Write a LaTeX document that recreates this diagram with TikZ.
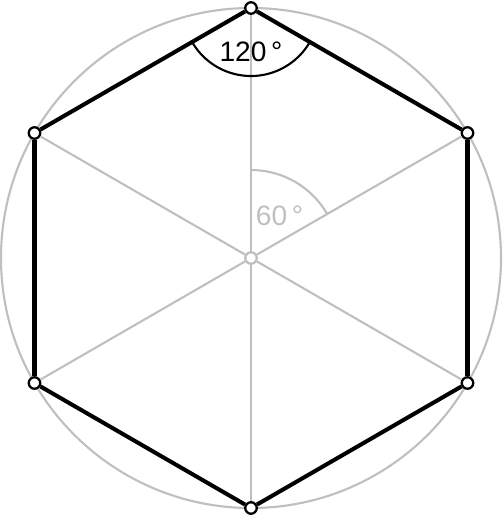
\documentclass[tikz,border=0pt]{standalone}
\usepackage{fontspec}
\setmainfont{Liberation Sans}
\begin{document}
\begin{tikzpicture}
\tikzset{rim/.style={draw=gray!50,line width=1.2pt},
	edge/.style={draw=black,line width=2.3pt},
	vertex/.style={circle,draw=black,fill=white,line width=1.3pt,inner sep=0pt,minimum size=0.23cm}}
\useasboundingbox (-5.02,-5.14) rectangle (5.04,5.16);
\draw[rim] (0,0) circle (5);
\node[vertex,draw=gray!50] (c) at (0,0) {};
\foreach \i in {0,...,5}{%
	\node[vertex] (v\i) at ({5*cos(90-60*\i)},{5*sin(90-60*\i)}) {};
	\draw[rim] (c) -- (v\i);
}%
% angles
\draw[rim] (0,1.76) arc (90:30:1.76);
\node[text=gray!50,font=\fontsize{16}{18}\selectfont] (a60) at (0.57,0.84) {60\,°};
\draw[black,line width=1.2pt] (0,5) ++(210:1.36) arc (210:330:1.36);
\node[font=\fontsize{16}{18}\selectfont] (a120) at (0,4.12) {120\,°};
\foreach \i/\j in {0/1,1/2,2/3,3/4,4/5,5/0}
	\draw[edge] (v\i) -- (v\j);
\end{tikzpicture}
\end{document}
